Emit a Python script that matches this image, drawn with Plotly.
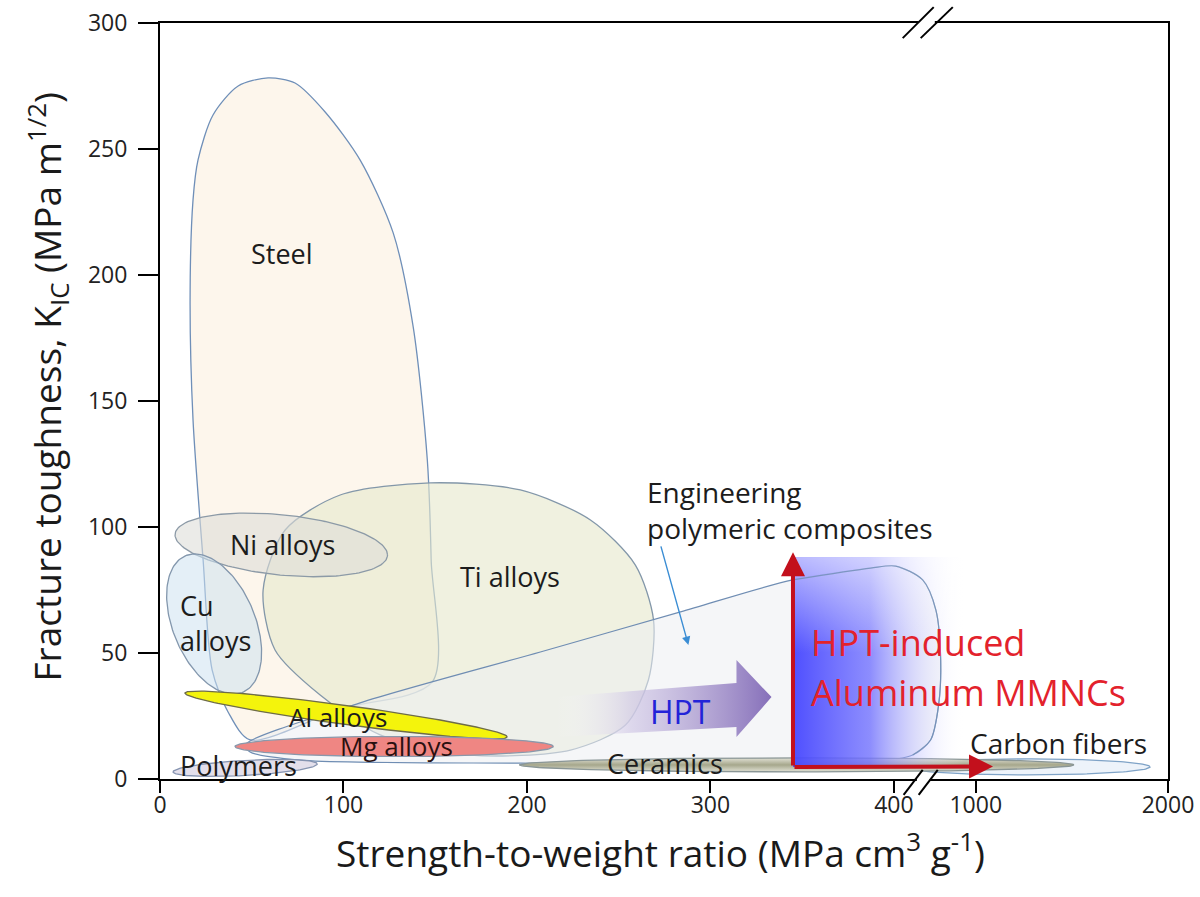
import numpy as np
import plotly.graph_objects as go

# ---- broken x axis: 0-400 linear, a short gap, then 1000-2000 compressed ----
GAP_U = 44.6      # axis length used by 400 -> 1000
HIGH_U = 104.8    # axis length used by 1000 -> 2000


def to_axis(v):
    v = np.asarray(v, dtype=float)
    return np.where(v <= 400, v,
                    np.where(v < 1000, 400 + (v - 400) * GAP_U / 600,
                             400 + GAP_U + (v - 1000) * HIGH_U / 1000))


x_tick_values = [0, 100, 200, 300, 400, 1000, 2000]
x_tick_labels = ["0", "100", "200", "300", "400", "1000", "2000"]
y_tick_values = [0, 50, 100, 150, 200, 250, 300]

# ---- free-form material property regions (strength/weight, K_IC) ----
steel_x = [49.1, 37.1, 28.4, 23.5, 18.0, 16.4, 18.0, 20.7, 28.9, 42.6, 58.9, 73.6,
           90.0, 109.1, 127.1, 138.0, 145.7, 147.8, 148.4, 98.2, 49.1]
steel_y = [15.5, 26.6, 43.3, 86.9, 142.5, 190.1, 229.8, 245.6, 263.5, 275.0, 278.2, 276.2,
           264.7, 245.6, 216.7, 179.4, 126.6, 86.9, 38.5, 27.8, 15.5]

ti_x = [169.1, 120.0, 87.3, 62.7, 56.2, 68.2, 98.2, 147.3, 196.4, 234.6, 259.1, 269.0,
        266.2, 253.7, 223.7, 169.1]
ti_y = [9.5, 17.5, 33.3, 51.2, 75.0, 98.8, 112.7, 117.5, 114.7, 102.8, 84.9, 63.1,
        39.3, 21.4, 11.5, 9.5]

composite_x = [46.4, 109.1, 207.3, 283.7, 344.8, 387.3, 413, 611, 708, 743, 728, 669,
               538, 387.3, 196.4, 76.4, 49.1, 46.4]
composite_y = [13.5, 30.2, 50.4, 66.3, 79.0, 83.7, 84.5, 79.0, 67.0, 47.2, 29.4, 15.5,
               9.5, 6.7, 6.3, 7.5, 10.7, 13.5]

# ---- elliptical regions: x extent, centre y, half height, tilt, lean ----
ell_names = ["Ni alloys", "Cu alloys", "Al alloys", "Mg alloys", "Polymers", "Ceramics", "Carbon fibers"]
ell_x_left = [8.2, 4.4, 13.6, 40.9, 7.1, 196.0, 485.0]
ell_x_right = [124.0, 54.6, 189.3, 214.4, 85.7, 1511.0, 1907.0]
ell_y_mid = [92.9, 61.5, 25.4, 12.9, 4.4, 5.6, 4.8]
ell_half_h = [12.0, 27.4, 3.8, 4.0, 3.0, 2.8, 3.2]
ell_tilt = [-0.069, -0.19, -0.099, 0.0, 0.04, 0.0, 0.0]
ell_lean = [0.0, -0.23, 0.0, 0.0, 0.0, 0.0, 0.0]

# ---- process arrows ----
hpt_arrow_x = [215.5, 314.2, 314.2, 333.3, 314.2, 314.2, 215.5, 215.5]
hpt_arrow_y = [32.5, 38.1, 47.2, 32.5, 16.7, 20.6, 16.7, 32.5]
mmnc_corner = (345.0, 4.8)
mmnc_up_tip = (345.0, 90.0)
mmnc_right_tip = (1090.0, 5.0)
mmnc_box_x = [345.0, 345.0, 920.0, 920.0, 345.0]
mmnc_box_y = [4.8, 88.0, 88.0, 4.8, 4.8]
mmnc_top_y = [50.0, 88.0, 88.0, 50.0, 50.0]

FONT = "Open Sans"
fig = go.Figure()


def add_region(x, y, fill, line, width=1.3, spline=True):
    fig.add_trace(go.Scatter(
        x=to_axis(x), y=y, mode="lines", fill="toself", fillcolor=fill,
        line=dict(color=line, width=width, shape="spline" if spline else "linear", smoothing=0.8),
        hoverinfo="skip", showlegend=False))


def ellipse(i, n=160):
    t = np.linspace(0, 2 * np.pi, n)
    ul, ur = to_axis([ell_x_left[i], ell_x_right[i]])
    cu, a = (ul + ur) / 2, (ur - ul) / 2
    b = ell_half_h[i]
    u = cu + a * np.cos(t) + ell_lean[i] * b * np.sin(t)
    y = ell_y_mid[i] + b * np.sin(t) + ell_tilt[i] * a * np.cos(t)
    return u, y


def add_ellipse(i, fill, line, width=1.3, gradient=None):
    u, y = ellipse(i)
    kw = dict(fillcolor=fill) if gradient is None else dict(fillgradient=gradient)
    fig.add_trace(go.Scatter(x=u, y=y, mode="lines", fill="toself",
                             line=dict(color=line, width=width),
                             hoverinfo="skip", showlegend=False, **kw))


add_region(steel_x, steel_y, "rgba(252,243,230,0.75)", "#6f8fb8")
add_region(ti_x, ti_y, "rgba(230,233,205,0.62)", "#8397a9")
add_ellipse(0, "rgba(222,222,216,0.6)", "#8c9aa7")
add_ellipse(1, "rgba(205,225,240,0.55)", "#8397ad")
add_region(composite_x, composite_y, "rgba(236,238,242,0.55)", "#6f8db3", width=1.2)
add_ellipse(2, "#f4f40c", "#6e6c48")
add_ellipse(3, "#ef8683", "#8a98ab")
add_ellipse(4, "#e3dfeb", "#8593b0")
add_ellipse(6, "#edf3fa", "#7fa3c7")
add_ellipse(5, None, "#8a9696",
            gradient=dict(type="vertical",
                          colorscale=[[0, "#e2e2d6"], [0.5, "#a6a78c"], [1, "#e2e2d6"]]))

# HPT processing arrow (fades in from the left)
fig.add_trace(go.Scatter(
    x=to_axis(hpt_arrow_x), y=hpt_arrow_y, mode="lines", fill="toself",
    fillgradient=dict(type="horizontal", start=215.5, stop=333.3,
                      colorscale=[[0, "rgba(255,255,255,0)"], [0.35, "rgba(205,195,228,0.6)"],
                                  [1, "rgba(128,104,182,0.95)"]]),
    line=dict(width=0), hoverinfo="skip", showlegend=False))

# HPT-induced MMNC region (blue glow, paler towards the top)
fig.add_trace(go.Scatter(
    x=to_axis(mmnc_box_x), y=mmnc_box_y, mode="lines", fill="toself",
    fillgradient=dict(type="horizontal",
                      colorscale=[[0, "rgba(70,70,255,0.95)"], [0.45, "rgba(115,115,255,0.8)"],
                                  [1, "rgba(255,255,255,0)"]]),
    line=dict(width=0), hoverinfo="skip", showlegend=False))
fig.add_trace(go.Scatter(
    x=to_axis(mmnc_box_x), y=mmnc_top_y, mode="lines", fill="toself",
    fillgradient=dict(type="vertical", start=50, stop=88,
                      colorscale=[[0, "rgba(255,255,255,0)"], [1, "rgba(255,255,255,0.6)"]]),
    line=dict(width=0), hoverinfo="skip", showlegend=False))

# composite outline kept visible on top of the glow
fig.add_trace(go.Scatter(x=to_axis(composite_x[4:13]), y=composite_y[4:13], mode="lines",
                         line=dict(color="rgba(111,141,179,0.8)", width=1.2, shape="spline", smoothing=0.8),
                         hoverinfo="skip", showlegend=False))

ann = []
TXT = "#1c1c1c"
LBL = 27


def label(x, y, text, size=LBL, color=TXT, align="center", xanchor="center"):
    ann.append(dict(x=float(to_axis(x)), y=y, xref="x", yref="y", text=text, showarrow=False,
                    font=dict(family=FONT, size=size, color=color), align=align,
                    xanchor=xanchor, yanchor="middle"))


label(66.6, 208.7, "Steel")
label(66.6, 92.9, "Ni alloys")
label(9.8, 61.9, "Cu<br>alloys", align="left", xanchor="left")
label(191.0, 80.2, "Ti alloys")
label(97.1, 24.6, "Al alloys", size=26)
label(128.7, 12.9, "Mg alloys", size=26, color="#2a1010")
label(42.6, 5.2, "Polymers")
label(275.5, 6.2, "Ceramics")
label(1430, 14.3, "Carbon fibers", size=28)
label(264.6, 106.7, "Engineering<br>polymeric composites", size=28, align="left", xanchor="left")
label(283.7, 26.8, "HPT", size=32, color="#2323d8")
label(353.5, 54.0, "HPT-induced", size=36, color="#e3222c", xanchor="left")
label(353.5, 34.5, "Aluminum MMNCs", size=36, color="#e3222c", xanchor="left")

# pointer to the composites region
ann.append(dict(x=288.0, y=53.2, ax=272.8, ay=92.9, xref="x", yref="y", axref="x", ayref="y",
                text="", showarrow=True, arrowhead=2, arrowsize=1.2, arrowwidth=1.4,
                arrowcolor="#3a8dd4"))
# property-improvement arrows of the MMNCs
for tip in (mmnc_up_tip, mmnc_right_tip):
    ann.append(dict(x=float(to_axis(tip[0])), y=tip[1], ax=float(to_axis(mmnc_corner[0])),
                    ay=mmnc_corner[1], xref="x", yref="y", axref="x", ayref="y", text="",
                    showarrow=True, arrowhead=2, arrowsize=1.2, arrowwidth=4, arrowcolor="#c3101c"))

# axis titles
ann.append(dict(x=0.497, y=-0.094, xref="paper", yref="paper", showarrow=False,
                xanchor="center", yanchor="middle",
                text="Strength-to-weight ratio (MPa cm<sup>3</sup> g<sup>-1</sup>)",
                font=dict(family=FONT, size=37, color="#1a1a1a")))
ann.append(dict(x=-0.112, y=0.518, xref="paper", yref="paper", showarrow=False, textangle=-90,
                xanchor="center", yanchor="middle",
                text="Fracture toughness, K<sub>IC</sub> (MPa m<sup>1/2</sup>)",
                font=dict(family=FONT, size=37, color="#1a1a1a")))

# axis-break marks
shapes = []
for (xa, xb, ya, yb) in [(413.5, 422.3, 1.0, 1.0), (412.5, 419.5, 0.0, 0.0)]:
    shapes.append(dict(type="line", xref="x", yref="paper", x0=xa, x1=xb, y0=ya, y1=yb,
                       line=dict(color="white", width=5), layer="above"))
for (x0, x1, y0, y1) in [(404.8, 421.7, 0.980, 1.021), (414.6, 432.1, 0.980, 1.021),
                         (405.3, 415.7, -0.021, 0.012), (413.5, 423.9, -0.021, 0.012)]:
    shapes.append(dict(type="line", xref="x", yref="paper", x0=x0, x1=x1, y0=y0, y1=y1,
                       line=dict(color="black", width=2), layer="above"))

fig.update_layout(
    width=1200, height=897,
    margin=dict(l=160, r=32, t=23, b=118, autoexpand=False),
    paper_bgcolor="white", plot_bgcolor="white",
    annotations=ann, shapes=shapes, showlegend=False,
    xaxis=dict(range=[0, float(to_axis(2000))], tickvals=to_axis(x_tick_values).tolist(),
               ticktext=x_tick_labels, showgrid=False, zeroline=False, automargin=False,
               showline=True, linecolor="black", linewidth=2, mirror=True,
               ticks="outside", ticklen=12, tickwidth=2, tickcolor="black",
               ticklabelstandoff=-8,
               tickfont=dict(family=FONT, size=23, color="#222")),
    yaxis=dict(range=[0, 300], tickvals=y_tick_values, showgrid=False, zeroline=False,
               automargin=False,
               showline=True, linecolor="black", linewidth=2, mirror=True,
               ticks="outside", ticklen=20, tickwidth=2, tickcolor="black",
               ticklabelstandoff=6,
               tickfont=dict(family=FONT, size=23, color="#222")),
)

fig.write_html("out.html")
